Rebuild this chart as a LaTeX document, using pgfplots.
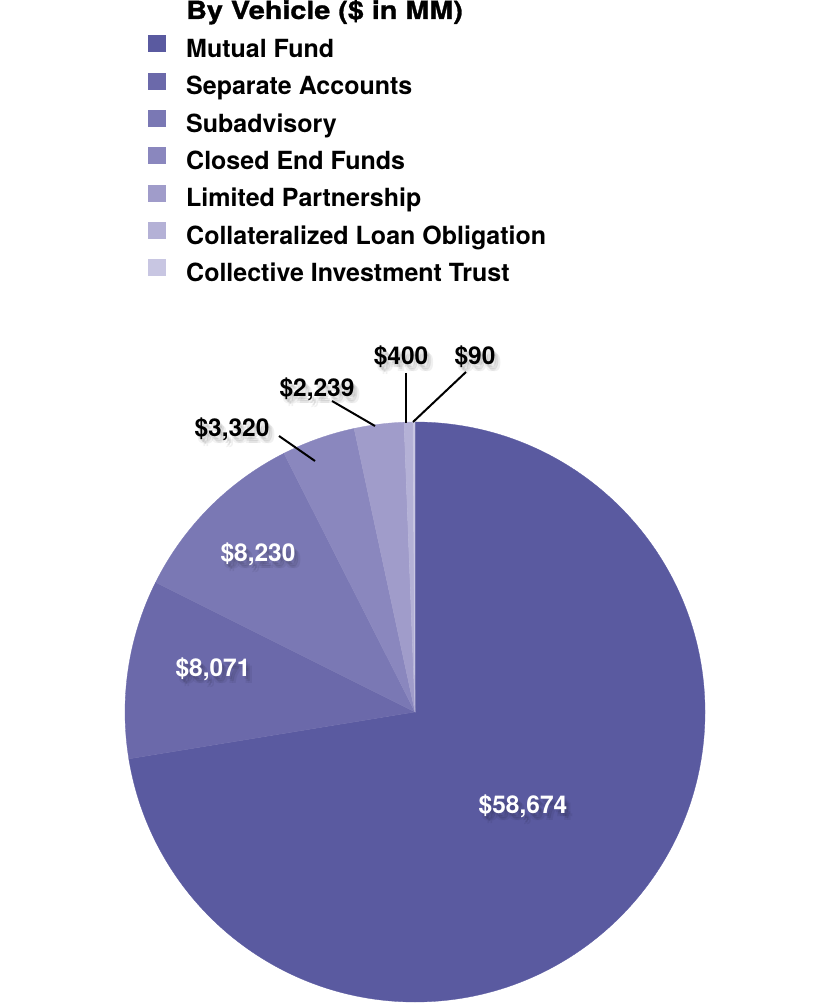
\documentclass[border=0pt]{standalone}
\usepackage{fontspec}
\setmainfont{TeX Gyre Heros}
\newfontface\titlefont[FakeStretch=1.15, FakeBold=1.2]{TeX Gyre Heros Bold}
\usepackage{pgfplots}
\usepackage{pgfplotstable}
\pgfplotsset{compat=1.18}
\definecolor{c1}{RGB}{90,90,160}
\definecolor{c2}{RGB}{107,105,170}
\definecolor{c3}{RGB}{122,120,180}
\definecolor{c4}{RGB}{138,135,190}
\definecolor{c5}{RGB}{160,156,202}
\definecolor{c6}{RGB}{180,177,214}
\definecolor{c7}{RGB}{200,198,226}
\newcommand\bigfont{\fontsize{25bp}{29bp}\selectfont\bfseries}
\newcommand\lblfont{\fontsize{24.5bp}{29bp}\selectfont\bfseries}
\newcommand\shadowed[4]{%
  \node[anchor=base, font=\lblfont, text=black, opacity=0.07, xshift=2bp, yshift=-3bp] at (axis cs:#1,#2) {#3};
  \node[anchor=base, font=\lblfont, text=black, opacity=0.07, xshift=4bp, yshift=-5bp] at (axis cs:#1,#2) {#3};
  \node[anchor=base, font=\lblfont, text=black, opacity=0.06, xshift=6bp, yshift=-7bp] at (axis cs:#1,#2) {#3};
  \node[anchor=base, font=\lblfont, text=black, opacity=0.05, xshift=3bp, yshift=-7bp] at (axis cs:#1,#2) {#3};
  \node[anchor=base, font=\lblfont, text=#4] at (axis cs:#1,#2) {#3};
}
\pgfplotstableread{
vehicle value
{Mutual Fund} 58674
{Separate Accounts} 8071
{Subadvisory} 8230
{Closed End Funds} 3320
{Limited Partnership} 2239
{Collateralized Loan Obligation} 400
{Collective Investment Trust} 90
}\vehicles
\begin{document}
\begin{tikzpicture}
\pgfplotstablegetelem{0}{value}\of\vehicles\edef\vA{\pgfplotsretval}
\pgfplotstablegetelem{1}{value}\of\vehicles\edef\vB{\pgfplotsretval}
\pgfplotstablegetelem{2}{value}\of\vehicles\edef\vC{\pgfplotsretval}
\pgfplotstablegetelem{3}{value}\of\vehicles\edef\vD{\pgfplotsretval}
\pgfplotstablegetelem{4}{value}\of\vehicles\edef\vE{\pgfplotsretval}
\pgfplotstablegetelem{5}{value}\of\vehicles\edef\vF{\pgfplotsretval}
\pgfplotstablegetelem{6}{value}\of\vehicles\edef\vG{\pgfplotsretval}
\edef\tot{\fpeval{\vA+\vB+\vC+\vD+\vE+\vF+\vG}}
\edef\aA{\fpeval{90-360*\vA/\tot}}
\edef\aB{\fpeval{\aA-360*\vB/\tot}}
\edef\aC{\fpeval{\aB-360*\vC/\tot}}
\edef\aD{\fpeval{\aC-360*\vD/\tot}}
\edef\aE{\fpeval{\aD-360*\vE/\tot}}
\edef\aF{\fpeval{\aE-360*\vF/\tot}}
\edef\aG{\fpeval{\aF-360*\vG/\tot}}
\begin{axis}[name=ax,
  x=1bp, y=1bp, xmin=0, xmax=830, ymin=0, ymax=1003,
  hide axis, clip=false,
  legend style={at={(axis cs:148,968)}, anchor=north west, draw=none, fill=none,
    inner sep=0pt, font=\bigfont, row sep=10.1bp,
    nodes={inner sep=0pt, text height=17.5bp, text depth=5bp},
    /tikz/every odd column/.style={column sep=20bp}},
  legend cell align=left,
  legend image code/.code={\fill[#1, draw=none] (0bp,-1bp) rectangle (18bp,16bp);},
]
\addlegendimage{fill=c1, draw=none}\addlegendentry{Mutual Fund}
\addlegendimage{fill=c2, draw=none}\addlegendentry{Separate Accounts}
\addlegendimage{fill=c3, draw=none}\addlegendentry{Subadvisory}
\addlegendimage{fill=c4, draw=none}\addlegendentry{Closed End Funds}
\addlegendimage{fill=c5, draw=none}\addlegendentry{Limited Partnership}
\addlegendimage{fill=c6, draw=none}\addlegendentry{Collateralized Loan Obligation}
\addlegendimage{fill=c7, draw=none}\addlegendentry{Collective Investment Trust}

\filldraw[c1, line width=0.3bp] (axis cs:415,291) -- ++(90:290bp) arc[start angle=90, end angle=\aA, radius=290bp] -- cycle;
\filldraw[c2, line width=0.3bp] (axis cs:415,291) -- ++(\aA:290bp) arc[start angle=\aA, end angle=\aB, radius=290bp] -- cycle;
\filldraw[c3, line width=0.3bp] (axis cs:415,291) -- ++(\aB:290bp) arc[start angle=\aB, end angle=\aC, radius=290bp] -- cycle;
\filldraw[c4, line width=0.3bp] (axis cs:415,291) -- ++(\aC:290bp) arc[start angle=\aC, end angle=\aD, radius=290bp] -- cycle;
\filldraw[c5, line width=0.3bp] (axis cs:415,291) -- ++(\aD:290bp) arc[start angle=\aD, end angle=\aE, radius=290bp] -- cycle;
\filldraw[c6, line width=0.3bp] (axis cs:415,291) -- ++(\aE:290bp) arc[start angle=\aE, end angle=\aF, radius=290bp] -- cycle;
\filldraw[c7, line width=0.3bp] (axis cs:415,291) -- ++(\aF:290bp) arc[start angle=\aF, end angle=\aG, radius=290bp] -- cycle;

\draw[black, line width=2bp] (axis cs:279,567) -- (axis cs:315,542);
\draw[black, line width=2bp] (axis cs:332,602) -- (axis cs:375,577);
\draw[black, line width=2bp] (axis cs:406,630) -- (axis cs:406,580);
\draw[black, line width=2bp] (axis cs:466,631) -- (axis cs:413,581);

\shadowed{523}{189}{\$58,674}{white}
\shadowed{213}{326}{\$8,071}{white}
\shadowed{258}{441}{\$8,230}{white}
\shadowed{232}{566}{\$3,320}{black}
\shadowed{317}{606}{\$2,239}{black}
\shadowed{401}{638}{\$400}{black}
\shadowed{475}{638}{\$90}{black}

\node[anchor=base west, inner sep=0pt, font={\fontsize{25bp}{29bp}\titlefont}] at (axis cs:186,984) {By Vehicle (\$ in MM)};
\end{axis}
\pgfresetboundingbox
\path (ax.south west) rectangle (ax.north east);
\end{tikzpicture}
\end{document}
